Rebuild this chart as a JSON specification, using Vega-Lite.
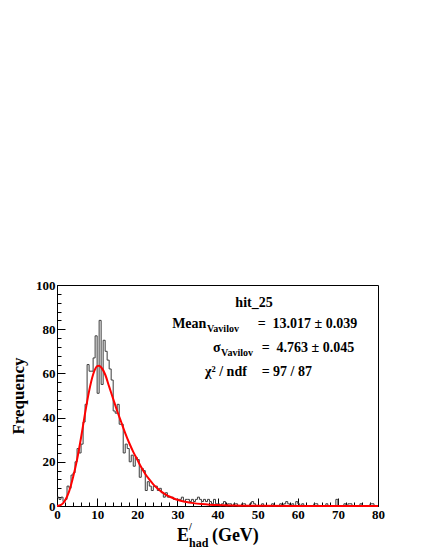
{
  "$schema": "https://vega.github.io/schema/vega-lite/v6.json",
  "width": 321,
  "height": 221,
  "autosize": "none",
  "padding": {"left": 57, "top": 285, "right": 47, "bottom": 44},
  "background": "white",
  "data": {"values": [{}]},
  "config": {
    "font": "Liberation Serif",
    "view": {"stroke": "#000", "strokeWidth": 1},
    "axis": {"grid": false},
    "text": {"font": "Liberation Serif", "fontWeight": "bold", "color": "#000"}
  },
  "datasets": {
    "hist": [
      {"e":0,"n":4},{"e":0.5,"n":3},{"e":1,"n":4},{"e":1.5,"n":2},{"e":2,"n":3},{"e":2.5,"n":9},{"e":3,"n":8},{"e":3.5,"n":14},{"e":4,"n":15},{"e":4.5,"n":20},
      {"e":5,"n":26},{"e":5.5,"n":24},{"e":6,"n":28},{"e":6.5,"n":38},{"e":7,"n":46},{"e":7.5,"n":64},{"e":8,"n":61},{"e":8.5,"n":61},{"e":9,"n":67},{"e":9.5,"n":77},
      {"e":10,"n":51},{"e":10.5,"n":84},{"e":11,"n":55},{"e":11.5,"n":75},{"e":12,"n":70},{"e":12.5,"n":66},{"e":13,"n":62},{"e":13.5,"n":57},{"e":14,"n":43},{"e":14.5,"n":42},
      {"e":15,"n":46},{"e":15.5,"n":37},{"e":16,"n":37},{"e":16.5,"n":24},{"e":17,"n":28},{"e":17.5,"n":26},{"e":18,"n":20},{"e":18.5,"n":23},{"e":19,"n":18},{"e":19.5,"n":22},
      {"e":20,"n":21},{"e":20.5,"n":13},{"e":21,"n":17},{"e":21.5,"n":16},{"e":22,"n":7},{"e":22.5,"n":11},{"e":23,"n":9},{"e":23.5,"n":7},{"e":24,"n":9},{"e":24.5,"n":9},
      {"e":25,"n":7},{"e":25.5,"n":8},{"e":26,"n":6},{"e":26.5,"n":4},{"e":27,"n":6},{"e":27.5,"n":4},{"e":28,"n":4},{"e":28.5,"n":4},{"e":29,"n":3},{"e":29.5,"n":3},
      {"e":30,"n":3},{"e":30.5,"n":3},{"e":31,"n":4},{"e":31.5,"n":2},{"e":32,"n":3},{"e":32.5,"n":3},{"e":33,"n":2},{"e":33.5,"n":3},{"e":34,"n":2},{"e":34.5,"n":3},
      {"e":35,"n":4},{"e":35.5,"n":3},{"e":36,"n":2},{"e":36.5,"n":3},{"e":37,"n":2},{"e":37.5,"n":3},{"e":38,"n":2},{"e":38.5,"n":1},{"e":39,"n":3},{"e":39.5,"n":1},
      {"e":40,"n":1},{"e":40.5,"n":0},{"e":41,"n":1},{"e":41.5,"n":2},{"e":42,"n":0},{"e":42.5,"n":1},{"e":43,"n":1},{"e":43.5,"n":0},{"e":44,"n":1},{"e":44.5,"n":1},
      {"e":45,"n":0},{"e":45.5,"n":0},{"e":46,"n":1},{"e":46.5,"n":1},{"e":47,"n":0},{"e":47.5,"n":0},{"e":48,"n":1},{"e":48.5,"n":2},{"e":49,"n":1},{"e":49.5,"n":0},
      {"e":50,"n":0},{"e":50.5,"n":0},{"e":51,"n":1},{"e":51.5,"n":0},{"e":52,"n":0},{"e":52.5,"n":0},{"e":53,"n":0},{"e":53.5,"n":1},{"e":54,"n":0},{"e":54.5,"n":0},
      {"e":55,"n":0},{"e":55.5,"n":1},{"e":56,"n":0},{"e":56.5,"n":1},{"e":57,"n":2},{"e":57.5,"n":1},{"e":58,"n":0},{"e":58.5,"n":1},{"e":59,"n":0},{"e":59.5,"n":2},
      {"e":60,"n":1},{"e":60.5,"n":0},{"e":61,"n":1},{"e":61.5,"n":0},{"e":62,"n":0},{"e":62.5,"n":0},{"e":63,"n":0},{"e":63.5,"n":0},{"e":64,"n":1},{"e":64.5,"n":1},
      {"e":65,"n":0},{"e":65.5,"n":0},{"e":66,"n":0},{"e":66.5,"n":0},{"e":67,"n":1},{"e":67.5,"n":0},{"e":68,"n":0},{"e":68.5,"n":0},{"e":69,"n":0},{"e":69.5,"n":3},
      {"e":70,"n":0},{"e":70.5,"n":0},{"e":71,"n":0},{"e":71.5,"n":1},{"e":72,"n":0},{"e":72.5,"n":1},{"e":73,"n":1},{"e":73.5,"n":0},{"e":74,"n":0},{"e":74.5,"n":0},
      {"e":75,"n":0},{"e":75.5,"n":1},{"e":76,"n":0},{"e":76.5,"n":0},{"e":77,"n":0},{"e":77.5,"n":0},{"e":78,"n":1},{"e":78.5,"n":1},{"e":79,"n":0},{"e":79.5,"n":0}
    ],
    "fit": [
      {"e":0,"f":0},{"e":1,"f":0.5},{"e":2,"f":2.5},{"e":3,"f":6.5},{"e":4,"f":13},{"e":5,"f":21},{"e":6,"f":31},{"e":7,"f":42},{"e":8,"f":52},{"e":9,"f":59.5},
      {"e":10,"f":63.3},{"e":10.5,"f":63.5},{"e":11,"f":62.8},{"e":12,"f":59.5},{"e":13,"f":54},{"e":14,"f":48.5},{"e":15,"f":43},{"e":16,"f":38},{"e":17,"f":33},{"e":18,"f":28.5},
      {"e":19,"f":24.5},{"e":20,"f":21},{"e":21,"f":17.5},{"e":22,"f":14.5},{"e":23,"f":12},{"e":24,"f":9.8},{"e":25,"f":8},{"e":26,"f":6.5},{"e":27,"f":5.3},{"e":28,"f":4.3},
      {"e":29,"f":3.5},{"e":30,"f":2.8},{"e":32,"f":1.9},{"e":34,"f":1.3},{"e":36,"f":0.9},{"e":38,"f":0.6},{"e":40,"f":0.4},{"e":44,"f":0.2},{"e":50,"f":0.08},{"e":60,"f":0.02},{"e":70,"f":0.01},{"e":80,"f":0}
    ]
  },
  "layer": [
    {
      "data": {"name": "hist"},
      "mark": {"type": "line", "interpolate": "step-after", "stroke": "#3a3a3a", "strokeWidth": 1},
      "encoding": {
        "x": {"field": "e", "type": "quantitative", "scale": {"domain": [0, 80], "nice": false, "zero": false},
          "axis": {"orient": "bottom", "values": [0,10,20,30,40,50,60,70,80], "tickSize": -8, "tickColor": "#000", "domainColor": "#000",
            "labelFont": "Liberation Serif", "labelFontWeight": "bold", "labelFontSize": 13, "labelColor": "#000", "labelPadding": 10,
            "labelFlush": false, "labelOverlap": false, "title": null}},
        "y": {"field": "n", "type": "quantitative", "scale": {"domain": [0, 100], "nice": false},
          "axis": {"orient": "left", "values": [0,20,40,60,80,100], "tickSize": -8, "tickColor": "#000", "domainColor": "#000",
            "labelFont": "Liberation Serif", "labelFontWeight": "bold", "labelFontSize": 13, "labelColor": "#000", "labelPadding": 10,
            "labelFlush": false, "labelOverlap": false,
            "title": "Frequency", "titleFont": "Liberation Serif", "titleFontWeight": "bold", "titleFontSize": 17, "titleColor": "#000", "titlePadding": 8}}
      }
    },
    {
      "data": {"name": "fit"},
      "mark": {"type": "line", "interpolate": "monotone", "stroke": "#ff0000", "strokeWidth": 2},
      "encoding": {
        "x": {"field": "e", "type": "quantitative",
          "axis": {"orient": "bottom", "values": [2,4,6,8,12,14,16,18,22,24,26,28,32,34,36,38,42,44,46,48,52,54,56,58,62,64,66,68,72,74,76,78],
            "tickSize": -4, "tickColor": "#000", "labels": false, "domain": false, "title": null}},
        "y": {"field": "f", "type": "quantitative",
          "axis": {"orient": "left", "values": [4,8,12,16,24,28,32,36,44,48,52,56,64,68,72,76,84,88,92,96],
            "tickSize": -4, "tickColor": "#000", "labels": false, "domain": false, "title": null}}
      }
    },
    {"mark": {"type": "text", "text": "hit_25", "fontSize": 14, "align": "center", "baseline": "middle"},
     "encoding": {"x": {"datum": 49.1, "type": "quantitative", "axis": null}, "y": {"datum": 91.8, "type": "quantitative", "axis": null}}},
    {"mark": {"type": "text", "text": "Mean", "fontSize": 14, "align": "left", "baseline": "middle"},
     "encoding": {"x": {"datum": 28.7, "type": "quantitative", "axis": null}, "y": {"datum": 82.4, "type": "quantitative", "axis": null}}},
    {"mark": {"type": "text", "text": "Vavilov", "fontSize": 10, "align": "left", "baseline": "middle"},
     "encoding": {"x": {"datum": 37.4, "type": "quantitative", "axis": null}, "y": {"datum": 80.0, "type": "quantitative", "axis": null}}},
    {"mark": {"type": "text", "text": "=\u00a0\u00a013.017 ± 0.039", "fontSize": 14, "align": "left", "baseline": "middle"},
     "encoding": {"x": {"datum": 50.0, "type": "quantitative", "axis": null}, "y": {"datum": 82.4, "type": "quantitative", "axis": null}}},
    {"mark": {"type": "text", "text": "σ", "fontSize": 14, "align": "left", "baseline": "middle"},
     "encoding": {"x": {"datum": 38.9, "type": "quantitative", "axis": null}, "y": {"datum": 71.5, "type": "quantitative", "axis": null}}},
    {"mark": {"type": "text", "text": "Vavilov", "fontSize": 10, "align": "left", "baseline": "middle"},
     "encoding": {"x": {"datum": 40.9, "type": "quantitative", "axis": null}, "y": {"datum": 69.1, "type": "quantitative", "axis": null}}},
    {"mark": {"type": "text", "text": "=\u00a0\u00a04.763 ± 0.045", "fontSize": 14, "align": "left", "baseline": "middle"},
     "encoding": {"x": {"datum": 51.0, "type": "quantitative", "axis": null}, "y": {"datum": 71.5, "type": "quantitative", "axis": null}}},
    {"mark": {"type": "text", "text": "χ² / ndf", "fontSize": 14, "align": "left", "baseline": "middle"},
     "encoding": {"x": {"datum": 36.9, "type": "quantitative", "axis": null}, "y": {"datum": 60.6, "type": "quantitative", "axis": null}}},
    {"mark": {"type": "text", "text": "=\u00a097 / 87", "fontSize": 14, "align": "left", "baseline": "middle"},
     "encoding": {"x": {"datum": 51.0, "type": "quantitative", "axis": null}, "y": {"datum": 60.6, "type": "quantitative", "axis": null}}},
    {"mark": {"type": "text", "text": "E", "fontSize": 18, "align": "left", "baseline": "middle"},
     "encoding": {"x": {"datum": 29.9, "type": "quantitative", "axis": null}, "y": {"datum": -13.6, "type": "quantitative", "axis": null}}},
    {"mark": {"type": "text", "text": "/", "fontSize": 10, "align": "left", "baseline": "middle"},
     "encoding": {"x": {"datum": 32.9, "type": "quantitative", "axis": null}, "y": {"datum": -9.5, "type": "quantitative", "axis": null}}},
    {"mark": {"type": "text", "text": "had", "fontSize": 12, "align": "left", "baseline": "middle"},
     "encoding": {"x": {"datum": 32.9, "type": "quantitative", "axis": null}, "y": {"datum": -16.7, "type": "quantitative", "axis": null}}},
    {"mark": {"type": "text", "text": "(GeV)", "fontSize": 18, "align": "left", "baseline": "middle"},
     "encoding": {"x": {"datum": 38.6, "type": "quantitative", "axis": null}, "y": {"datum": -13.6, "type": "quantitative", "axis": null}}}
  ],
  "resolve": {"axis": {"x": "independent", "y": "independent"}}
}
